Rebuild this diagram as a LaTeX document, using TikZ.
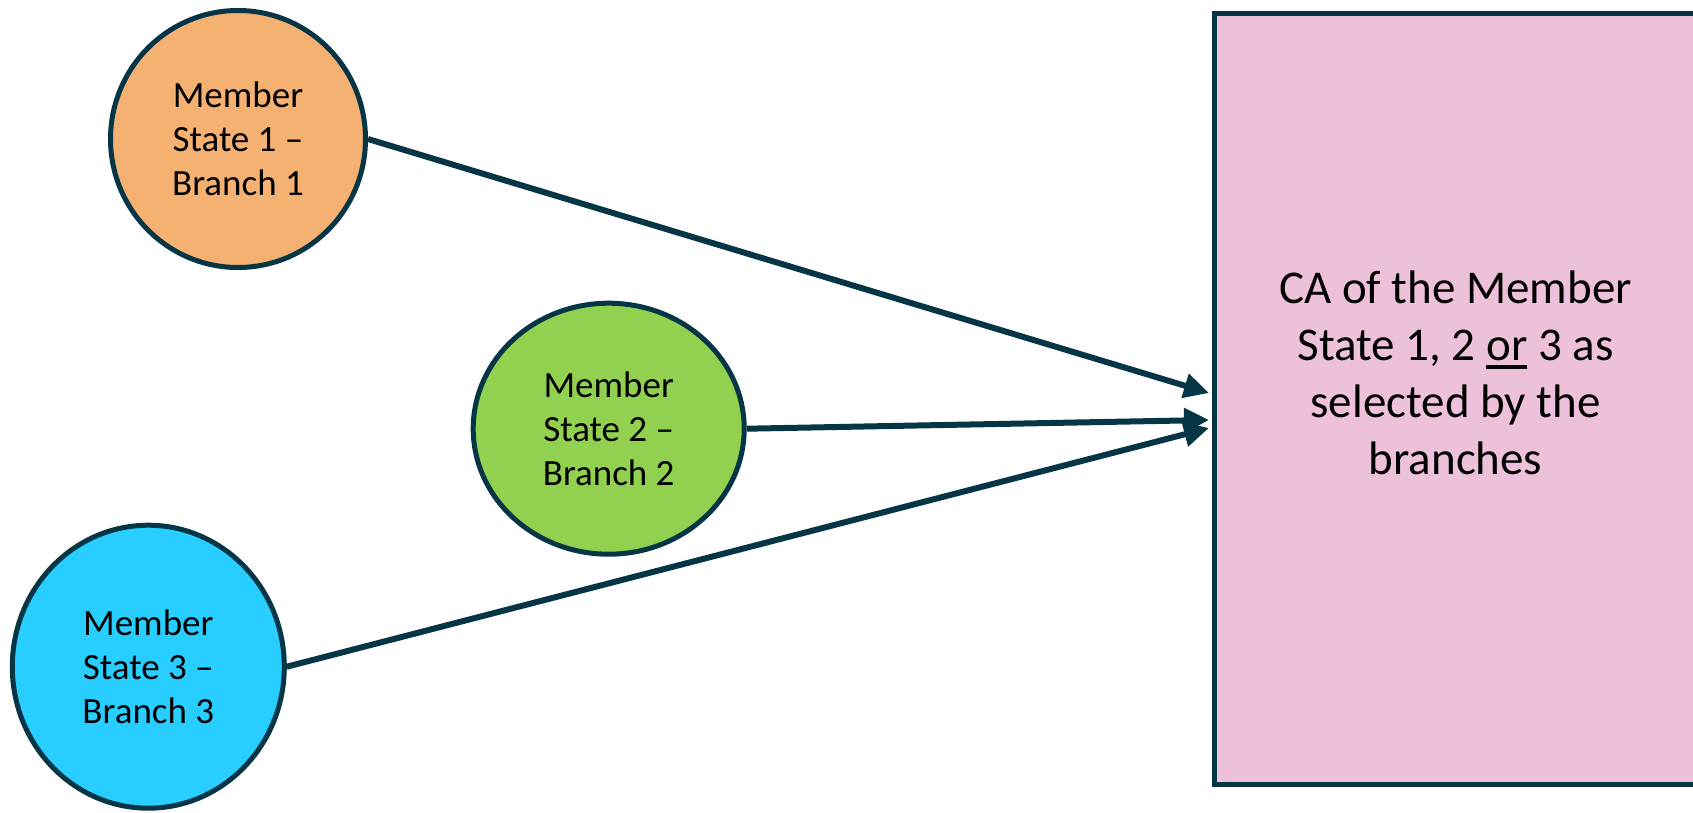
\documentclass[tikz,border=0pt]{standalone}
\usepackage{fontspec}
\setmainfont{Carlito}
\usetikzlibrary{arrows.meta,shapes.geometric}

\definecolor{edgeink}{RGB}{6,54,70}
\definecolor{branchorange}{RGB}{244,177,114}
\definecolor{branchgreen}{RGB}{146,208,80}
\definecolor{branchcyan}{RGB}{40,206,255}
\definecolor{capink}{RGB}{237,193,218}

% thick underline for a single word
\newcommand\thickul[1]{\setbox0\hbox{#1}\rlap{\rule[-9pt]{\wd0}{4pt}}\box0\relax}

\begin{document}
\begin{tikzpicture}[x=1pt,y=-1pt,
  branch/.style={ellipse, draw=edgeink, line width=5pt, inner sep=0pt,
    align=center, font=\fontsize{37}{44}\selectfont},
  feed/.style={draw=edgeink, line width=6pt,
    -{Triangle[length=25pt,width=24pt]}},
]
\useasboundingbox (0,0) rectangle (1693,812);

% competent authority box (runs off the right edge)
\node[draw=edgeink, fill=capink, line width=5pt, inner sep=0pt,
      anchor=north west, minimum width=489pt, minimum height=771pt]
      (ca) at (1211.5,10.5) {};
\node[align=center, inner sep=0pt, font=\fontsize{47}{57}\selectfont]
      (catext) at (1455.5,372.5)
      {CA of the Member\\State 1, 2 \thickul{or} 3 as\\selected by the\\branches};

% branches
\node[branch, fill=branchorange, minimum width=255pt, minimum height=257pt]
      (b1) at (238,139) {Member\\State 1 --\\Branch 1};
\node[branch, fill=branchgreen, minimum width=271pt, minimum height=251pt]
      (b2) at (608.7,428.7) {Member\\State 2 --\\Branch 2};
\node[branch, fill=branchcyan, minimum width=272pt, minimum height=283pt]
      (b3) at (148.3,666.7) {Member\\State 3 --\\Branch 3};

% arrow tips on the box's left side
\coordinate (t1) at (1209,393);
\coordinate (t2) at (1209,420);
\coordinate (t3) at (1209,428);

\draw[feed] (b1.east) -- (t1);
\draw[feed] (b2.east) -- (t2);
\draw[feed] (b3.east) -- (t3);
\end{tikzpicture}
\end{document}
